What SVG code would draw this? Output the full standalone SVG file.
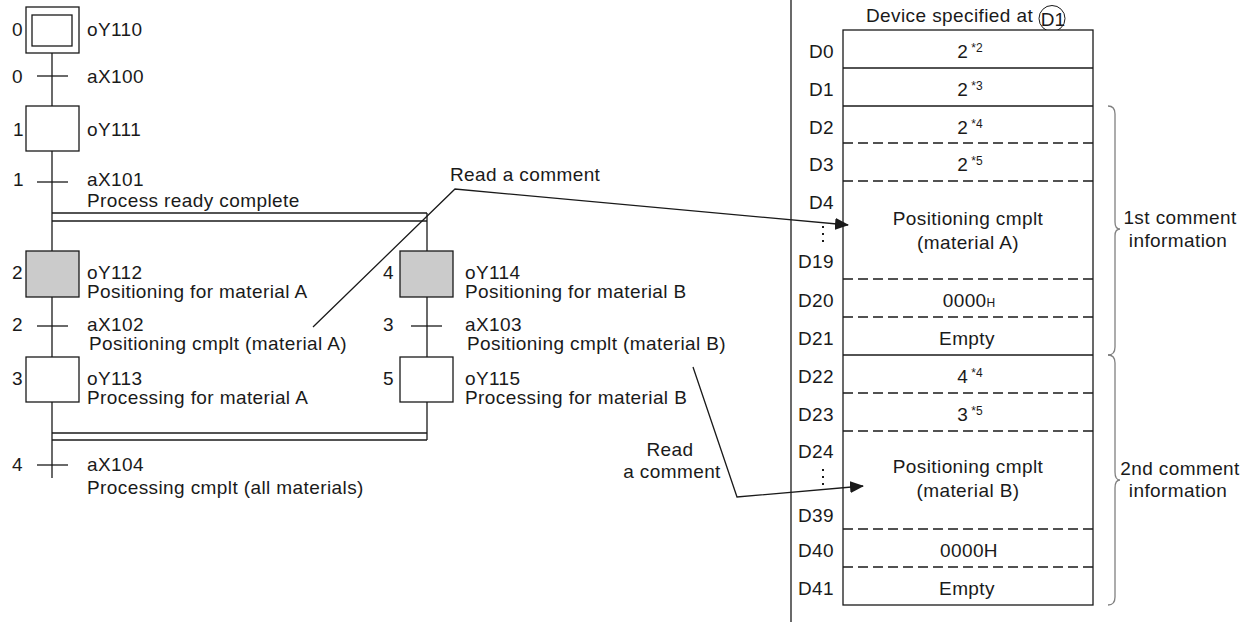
<svg xmlns="http://www.w3.org/2000/svg" width="1242" height="622" viewBox="0 0 1242 622">
<defs>
<style>
text{font-family:"Liberation Sans",Arial,sans-serif;font-size:19px;letter-spacing:0.4px;fill:#1a1a1a}
.m{text-anchor:middle}
.e{text-anchor:end}
.sup{font-size:12px;letter-spacing:0}
.ln{stroke:#1a1a1a;stroke-width:1.3;fill:none}
.box{stroke:#1a1a1a;stroke-width:1.3;fill:#fff}
.gray{fill:#cbcbcb}
.dash{stroke:#1a1a1a;stroke-width:1.6;stroke-dasharray:10 5;fill:none}
.brace{stroke:#808080;stroke-width:1.3;fill:none}
.dots{stroke:#1a1a1a;stroke-width:2;stroke-dasharray:2 5}
</style>
<marker id="arr" markerWidth="14" markerHeight="12" refX="13" refY="6" orient="auto" markerUnits="userSpaceOnUse">
<path d="M0,0 L14,6 L0,12 Z" fill="#1a1a1a"/>
</marker>
</defs>
<rect width="1242" height="622" fill="#fff"/>

<g id="title">
<text x="866" y="22">Device specified at</text>
<circle cx="1052" cy="18.5" r="13" fill="none" stroke="#1a1a1a" stroke-width="1"/>
<text class="m" x="1053" y="26" style="letter-spacing:0">D1</text>
</g>

<g id="table">
<rect class="box" x="843" y="30" width="250" height="575"/>
<line class="ln" x1="843" y1="68" x2="1093" y2="68"/>
<line class="ln" x1="843" y1="106" x2="1093" y2="106"/>
<line class="ln" x1="843" y1="355" x2="1093" y2="355"/>
<line class="dash" x1="843" y1="143" x2="1093" y2="143"/>
<line class="dash" x1="843" y1="181" x2="1093" y2="181"/>
<line class="dash" x1="843" y1="279" x2="1093" y2="279"/>
<line class="dash" x1="843" y1="317" x2="1093" y2="317"/>
<line class="dash" x1="843" y1="393" x2="1093" y2="393"/>
<line class="dash" x1="843" y1="431" x2="1093" y2="431"/>
<line class="dash" x1="843" y1="529" x2="1093" y2="529"/>
<line class="dash" x1="843" y1="567" x2="1093" y2="567"/>
</g>

<g id="row-D0"><text class="e" x="834" y="58">D0</text><text class="m" x="970" y="58">2<tspan class="sup" dx="3" dy="-6">*2</tspan></text></g>
<g id="row-D1"><text class="e" x="834" y="96">D1</text><text class="m" x="970" y="96">2<tspan class="sup" dx="3" dy="-6">*3</tspan></text></g>
<g id="row-D2"><text class="e" x="834" y="134">D2</text><text class="m" x="970" y="134">2<tspan class="sup" dx="3" dy="-6">*4</tspan></text></g>
<g id="row-D3"><text class="e" x="834" y="171">D3</text><text class="m" x="970" y="171">2<tspan class="sup" dx="3" dy="-6">*5</tspan></text></g>
<g id="row-D4-D19">
<text class="e" x="834" y="209">D4</text>
<line class="dots" x1="823" y1="226" x2="823" y2="243"/>
<text class="e" x="834" y="268">D19</text>
<text class="m" x="968" y="225">Positioning cmplt</text>
<text class="m" x="968" y="249">(material A)</text>
</g>
<g id="row-D20"><text class="e" x="834" y="307">D20</text><text class="m" x="969" y="307">0000<tspan class="sup">H</tspan></text></g>
<g id="row-D21"><text class="e" x="834" y="345">D21</text><text class="m" x="967" y="345">Empty</text></g>
<g id="row-D22"><text class="e" x="834" y="383">D22</text><text class="m" x="970" y="383">4<tspan class="sup" dx="3" dy="-6">*4</tspan></text></g>
<g id="row-D23"><text class="e" x="834" y="421">D23</text><text class="m" x="970" y="421">3<tspan class="sup" dx="3" dy="-6">*5</tspan></text></g>
<g id="row-D24-D39">
<text class="e" x="834" y="458">D24</text>
<line class="dots" x1="823" y1="469" x2="823" y2="486"/>
<text class="e" x="834" y="522">D39</text>
<text class="m" x="968" y="473">Positioning cmplt</text>
<text class="m" x="968" y="497">(material B)</text>
</g>
<g id="row-D40"><text class="e" x="834" y="557">D40</text><text class="m" x="969" y="557">0000H</text></g>
<g id="row-D41"><text class="e" x="834" y="595">D41</text><text class="m" x="967" y="595">Empty</text></g>

<g id="brace1">
<path class="brace" d="M1108,106 Q1115,106 1115,114 L1115,222 Q1115,229 1120,229 Q1115,229 1115,236 L1115,347 Q1115,355 1108,355"/>
<text class="m" x="1180" y="224">1st comment</text>
<text class="m" x="1178" y="247">information</text>
</g>
<g id="brace2">
<path class="brace" d="M1108,355 Q1115,355 1115,363 L1115,472 Q1115,480 1120,480 Q1115,480 1115,488 L1115,597 Q1115,605 1108,605"/>
<text class="m" x="1180" y="475">2nd comment</text>
<text class="m" x="1178" y="497">information</text>
</g>

<g id="step0">
<rect class="box" x="26" y="7" width="53" height="46"/>
<rect class="box" x="32" y="15" width="40" height="31"/>
<text x="12" y="36">0</text>
<text x="87" y="36">oY110</text>
</g>
<g id="trans0">
<line class="ln" x1="37" y1="76" x2="68" y2="76"/>
<text x="12" y="83">0</text>
<text x="87" y="83">aX100</text>
</g>
<g id="step1">
<rect class="box" x="26" y="106" width="53" height="45"/>
<text x="13" y="136">1</text>
<text x="87" y="136">oY111</text>
</g>
<g id="trans1">
<line class="ln" x1="37" y1="182" x2="68" y2="182"/>
<text x="13" y="186">1</text>
<text x="87" y="186">aX101</text>
<text x="87" y="207">Process ready complete</text>
</g>
<g id="step2">
<rect class="box gray" x="26" y="251" width="53" height="46"/>
<text x="12" y="279">2</text>
<text x="87" y="279">oY112</text>
<text x="87" y="298">Positioning for material A</text>
</g>
<g id="trans2">
<line class="ln" x1="37" y1="326" x2="68" y2="326"/>
<text x="12" y="331">2</text>
<text x="87" y="331">aX102</text>
<text x="89" y="350">Positioning cmplt (material A)</text>
</g>
<g id="step3">
<rect class="box" x="26" y="357" width="53" height="45"/>
<text x="12" y="385">3</text>
<text x="87" y="385">oY113</text>
<text x="87" y="404">Processing for material A</text>
</g>
<g id="step4">
<rect class="box gray" x="400" y="251" width="53" height="46"/>
<text x="383" y="279">4</text>
<text x="465" y="279">oY114</text>
<text x="465" y="298">Positioning for material B</text>
</g>
<g id="trans3">
<line class="ln" x1="411" y1="326" x2="442" y2="326"/>
<text x="383" y="331">3</text>
<text x="465" y="331">aX103</text>
<text x="467" y="350">Positioning cmplt (material B)</text>
</g>
<g id="step5">
<rect class="box" x="400" y="357" width="53" height="45"/>
<text x="383" y="385">5</text>
<text x="465" y="385">oY115</text>
<text x="465" y="404">Processing for material B</text>
</g>
<g id="trans4">
<line class="ln" x1="37" y1="465" x2="68" y2="465"/>
<text x="12" y="471">4</text>
<text x="87" y="471">aX104</text>
<text x="87" y="494">Processing cmplt (all materials)</text>
</g>

<g id="label-read1">
<text x="450" y="181">Read a comment</text>
</g>
<g id="label-read2">
<text class="m" x="670" y="456">Read</text>
<text class="m" x="672" y="478">a comment</text>
</g>

<g id="connectors">
<line class="ln" x1="52" y1="53" x2="52" y2="106"/>
<line class="ln" x1="52" y1="151" x2="52" y2="251"/>
<line class="ln" x1="52" y1="297" x2="52" y2="357"/>
<line class="ln" x1="52" y1="402" x2="52" y2="478"/>
<line class="ln" x1="427" y1="213" x2="427" y2="251"/>
<line class="ln" x1="427" y1="297" x2="427" y2="357"/>
<line class="ln" x1="427" y1="402" x2="427" y2="440"/>
<line class="ln" x1="52" y1="213" x2="427" y2="213"/>
<line class="ln" x1="52" y1="221" x2="427" y2="221"/>
<line class="ln" x1="52" y1="433" x2="427" y2="433"/>
<line class="ln" x1="52" y1="440" x2="427" y2="440"/>
<line class="ln" x1="791" y1="0" x2="791" y2="622"/>
<polyline class="ln" points="313,327 455,189 848,225" marker-end="url(#arr)"/>
<polyline class="ln" points="693,367 737,497 863,486" marker-end="url(#arr)"/>
</g>
</svg>
